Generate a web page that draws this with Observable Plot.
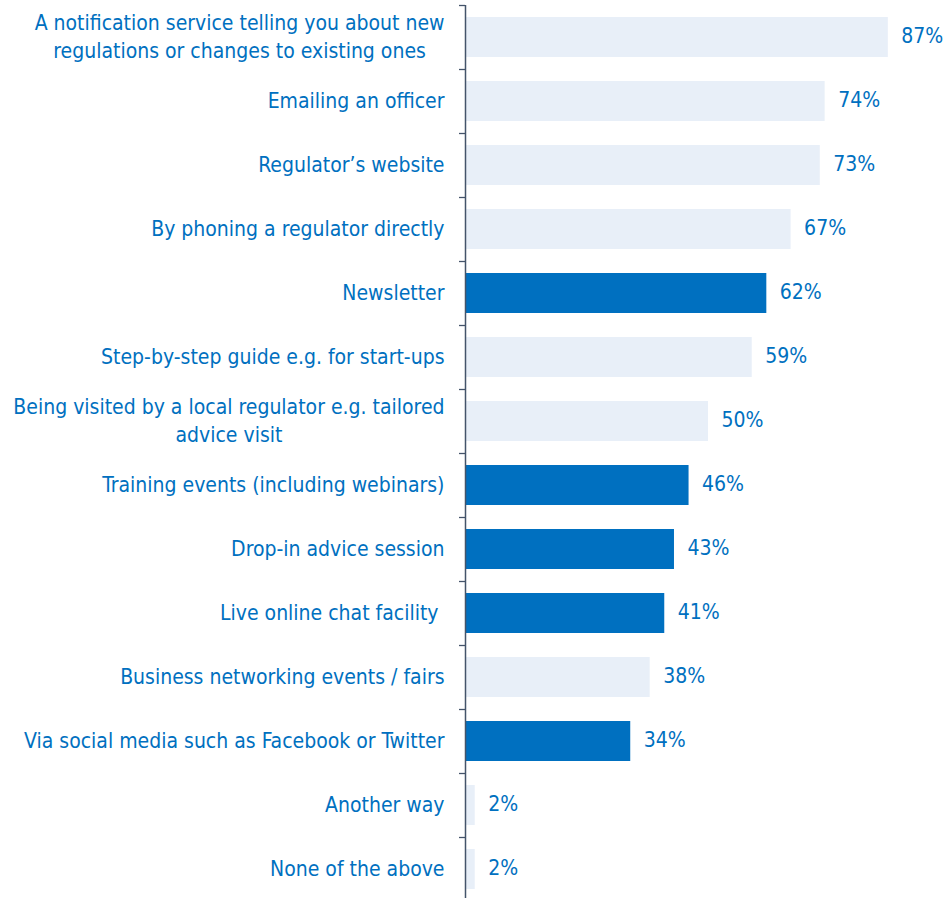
<!DOCTYPE html>
<html><head><meta charset="utf-8">
<script src="https://cdn.jsdelivr.net/npm/d3@7"></script>
<script src="https://cdn.jsdelivr.net/npm/@observablehq/plot@0.6"></script>
<style>
body{margin:0;background:#fff;}
#chart svg{display:block;}
</style>
</head><body><div id="chart"></div>
<script>
const categories = [
  "A notification service telling you about new\nregulations or changes to existing ones",
  "Emailing an officer",
  "Regulator’s website",
  "By phoning a regulator directly",
  "Newsletter",
  "Step-by-step guide e.g. for start-ups",
  "Being visited by a local regulator e.g. tailored\nadvice visit",
  "Training events (including webinars)",
  "Drop-in advice session",
  "Live online chat facility ",
  "Business networking events / fairs",
  "Via social media such as Facebook or Twitter",
  "Another way",
  "None of the above"
];
const values = [87, 74, 73, 67, 62, 59, 50, 46, 43, 41, 38, 34, 2, 2];
const highlighted = [
  "Newsletter",
  "Training events (including webinars)",
  "Drop-in advice session",
  "Live online chat facility ",
  "Via social media such as Facebook or Twitter"
];

const data = categories.map((c, i) => ({label: c, value: values[i], dark: highlighted.includes(c)}));
const FONT = "DejaVu Sans Condensed, DejaVu Sans, sans-serif";
const BLUE = "#0070c0";
const LIGHT = "#e8eff8";

const chart = Plot.plot({
  width: 945,
  height: 898,
  marginLeft: 465,
  marginRight: 0,
  marginTop: 5,
  marginBottom: 0,
  style: {fontFamily: FONT, fontSize: "21px", color: BLUE, background: "#fff"},
  x: {domain: [0, 100], range: [465, 951], axis: null},
  y: {domain: categories, range: [4.7, 900.7], paddingInner: 0.375, paddingOuter: 0.1875, axis: null},
  marks: [
    Plot.barX(data, {y: "label", x: "value", fill: d => d.dark ? BLUE : LIGHT}),
    Plot.axisY({tickSize: 6, tickFormat: () => "", label: null, dy: -32, stroke: "#44546a", strokeWidth: 1.3}),
    Plot.ruleX([0], {stroke: "#44546a", strokeWidth: 1.5}),
    Plot.text(data, {y: "label", x: 0, text: "label", textAnchor: "end", dx: -21, dy: -2, fill: BLUE,
      lineHeight: 1.33, fontSize: 21, className: "ylab"}),
    Plot.text(data, {y: "label", x: "value", text: d => d.value + "%", textAnchor: "start", dx: 13, dy: -1, fill: BLUE, fontSize: 21})
  ]
});
document.getElementById("chart").appendChild(chart);

// centre multi-line category labels, keeping their right edge at the axis offset
chart.querySelectorAll(".ylab text").forEach(t => {
  const spans = t.querySelectorAll("tspan");
  if (spans.length > 1) {
    const w = t.getBBox().width;
    t.setAttribute("text-anchor", "middle");
    spans.forEach(s => s.setAttribute("x", -w / 2));
  }
});
</script>
</body></html>
